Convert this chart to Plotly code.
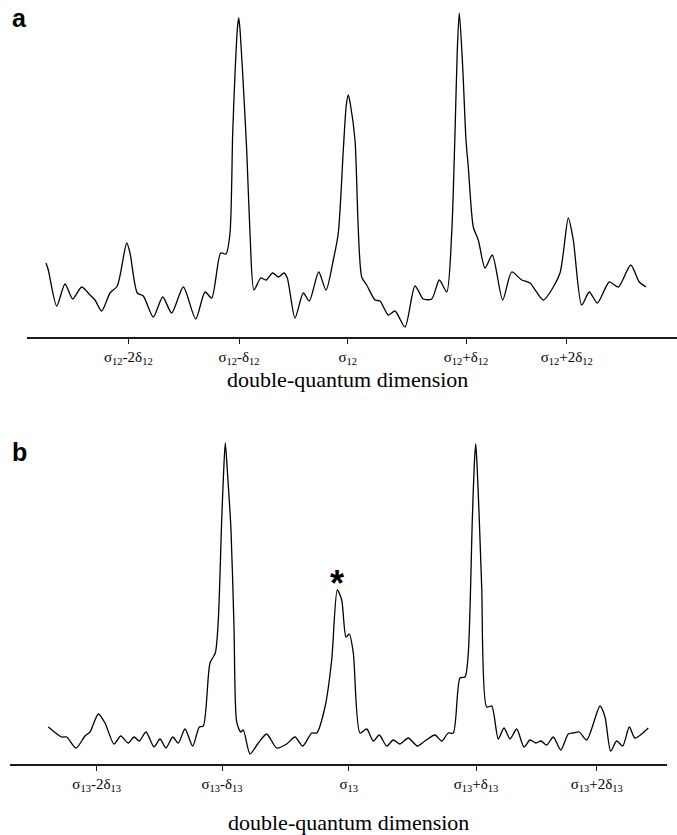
import plotly.graph_objects as go

W, H = 677, 835

# ---------- panel a data (x: arbitrary frequency units, y: intensity) ----------
xa = [46, 48.3, 56.7, 65, 72.7, 81.7, 90, 95, 101.7, 110, 117.3, 126.7, 130, 137.3, 143.3,
      153.3, 162.7, 171.7, 183.3, 195.7, 205, 211.7, 220.7, 226, 230, 232.7, 235.3, 237.5,
      238.7, 239.8, 242.3, 246.7, 250, 254, 260.7, 266, 272.7, 278.3, 284, 287.3, 295, 303.3,
      309.3, 318.7, 326, 333.3, 338.3, 343.3, 346.3, 348.3, 350.5, 355, 361.7, 366.7, 375, 380,
      388.3, 395, 405, 415, 423.3, 431.7, 439.3, 446.7, 451.7, 455, 457.3, 459.3, 462.7, 466,
      468.3, 473.3, 478.3, 485, 492.3, 502.7, 511.7, 521.7, 530, 543.3, 553.3, 560, 563.3,
      568.3, 573.3, 581.7, 589.3, 597.3, 609.3, 618.3, 630.7, 639.3, 646]
ya = [74, 67, 31, 53, 38, 50, 42, 37, 26, 44, 51, 94, 84, 44, 41,
      20, 40, 24, 50, 18, 45, 39, 84, 83, 104, 204, 270, 310,
      319, 310, 270, 187, 104, 47, 59, 57, 64, 60, 64, 59, 19, 44,
      36, 65, 47, 77, 104, 187, 232, 242, 232, 197, 60, 52, 37, 36,
      22, 26, 10, 51, 38, 38, 57, 45, 104, 204, 287, 324, 270, 197,
      170, 110, 97, 69, 82, 37, 65, 57, 54, 37, 50, 64, 84,
      119, 97, 32, 45, 34, 55, 50, 72, 55, 50]

ticks_a = [128.3, 239, 347.7, 466, 566.7]
labels_a = ["σ<sub>12</sub>-2δ<sub>12</sub>", "σ<sub>12</sub>-δ<sub>12</sub>", "σ<sub>12</sub>",
            "σ<sub>12</sub>+δ<sub>12</sub>", "σ<sub>12</sub>+2δ<sub>12</sub>"]

# ---------- panel b data ----------
xb = [48.3, 61.7, 66.7, 76, 85, 90, 98.3, 105, 114, 120.7, 128.3, 134, 139.3, 146, 154, 160,
      166, 172.7, 178.3, 185, 192.7, 199.3, 203.3, 210, 215.3, 218.3, 221.7, 223.7, 225.3,
      227.3, 231, 234, 236.7, 240.7, 243.3, 250, 258.3, 266.7, 276.7, 286.7, 295, 302.7, 311.7,
      316.7, 325, 331.7, 337.3, 341.7, 346, 349.3, 353.3, 360, 366.7, 373.3, 379.3, 386.7,
      393.3, 400, 408.3, 417.3, 425, 435, 441.7, 448.3, 453.3, 460, 465, 468.3, 472.3, 474.3,
      475.7, 477, 479.3, 481.7, 486.7, 491.7, 498.3, 504, 510, 516.7, 524, 530, 536, 541,
      546.7, 553.3, 560.7, 568.3, 573.3, 579.3, 586.7, 600, 605, 610.7, 616.7, 622.7, 629.3,
      635, 648.3]
yb = [37, 27, 27, 16, 28, 32, 50, 41, 20, 28, 21, 27, 23, 32, 17, 25,
      16, 27, 21, 35, 18, 37, 38, 101, 111, 144, 244, 294, 321,
      294, 234, 137, 42, 32, 34, 10, 21, 30, 16, 20, 27, 18, 31,
      31, 57, 104, 174, 164, 127, 130, 111, 31, 35, 23, 29, 18,
      24, 20, 26, 18, 23, 29, 23, 31, 31, 86, 87, 111, 244, 300,
      320, 300, 244, 177, 57, 58, 25, 36, 25, 35, 17, 24, 21, 23,
      19, 27, 14, 30, 31, 32, 24, 58, 47, 13, 23, 18, 37,
      26, 36]

ticks_b = [96.7, 222, 348.8, 476, 596.7]
labels_b = ["σ<sub>13</sub>-2δ<sub>13</sub>", "σ<sub>13</sub>-δ<sub>13</sub>", "σ<sub>13</sub>",
            "σ<sub>13</sub>+δ<sub>13</sub>", "σ<sub>13</sub>+2δ<sub>13</sub>"]

axis_title = "double-quantum dimension"
star_x, star_y = 337.3, 181

serif = "Liberation Serif, Times New Roman, serif"
sans = "Liberation Sans, Arial, sans-serif"

fig = go.Figure()
fig.add_trace(go.Scatter(x=xa, y=ya, mode="lines", xaxis="x", yaxis="y",
                         line=dict(color="black", width=1.3, shape="spline", smoothing=0.7),
                         showlegend=False, hoverinfo="skip"))
fig.add_trace(go.Scatter(x=xb, y=yb, mode="lines", xaxis="x2", yaxis="y2",
                         line=dict(color="black", width=1.3, shape="spline", smoothing=0.7),
                         showlegend=False, hoverinfo="skip"))

def xax(domain, rng, tv, tt):
    return dict(domain=domain, range=rng, showline=True, linewidth=2, linecolor="#1a1a1a",
                showgrid=False, zeroline=False, ticks="outside", ticklen=5, tickwidth=1,
                tickcolor="#1a1a1a", tickvals=tv, ticktext=tt,
                tickfont=dict(family=serif, size=15, color="black"), fixedrange=True)

fig.update_layout(
    width=W, height=H, margin=dict(l=0, r=0, t=0, b=0),
    paper_bgcolor="white", plot_bgcolor="white",
    xaxis=xax([27 / W, 1.0], [27, 677], ticks_a, labels_a) | dict(anchor="y"),
    yaxis=dict(domain=[1 - 337 / H, 1.0], range=[0, 337], visible=False, fixedrange=True),
    xaxis2=xax([10 / W, 667 / W], [10, 667], ticks_b, labels_b) | dict(anchor="y2"),
    yaxis2=dict(domain=[1 - 764 / H, 1 - 430 / H], range=[0, 334], visible=False, fixedrange=True),
    annotations=[
        dict(text="<b>a</b>", x=10 / W, y=1 - 17.5 / H, xref="paper", yref="paper",
             xanchor="left", yanchor="middle", showarrow=False,
             font=dict(family=sans, size=25, color="black")),
        dict(text="<b>b</b>", x=10 / W, y=1 - 452 / H, xref="paper", yref="paper",
             xanchor="left", yanchor="middle", showarrow=False,
             font=dict(family=sans, size=25, color="black")),
        dict(text=axis_title, x=347 / W, y=1 - 379 / H, xref="paper", yref="paper",
             xanchor="center", yanchor="middle", showarrow=False,
             font=dict(family=serif, size=22, color="black")),
        dict(text=axis_title, x=348 / W, y=1 - 822 / H, xref="paper", yref="paper",
             xanchor="center", yanchor="middle", showarrow=False,
             font=dict(family=serif, size=22, color="black")),
        dict(text="<b>*</b>", x=star_x, y=star_y, xref="x2", yref="y2",
             xanchor="center", yanchor="middle", showarrow=False,
             font=dict(family=sans, size=36, color="black")),
    ],
)

fig.write_html("out.html", config={"displayModeBar": False},
               post_script="document.body.style.margin='0';document.body.style.overflow='hidden';")
